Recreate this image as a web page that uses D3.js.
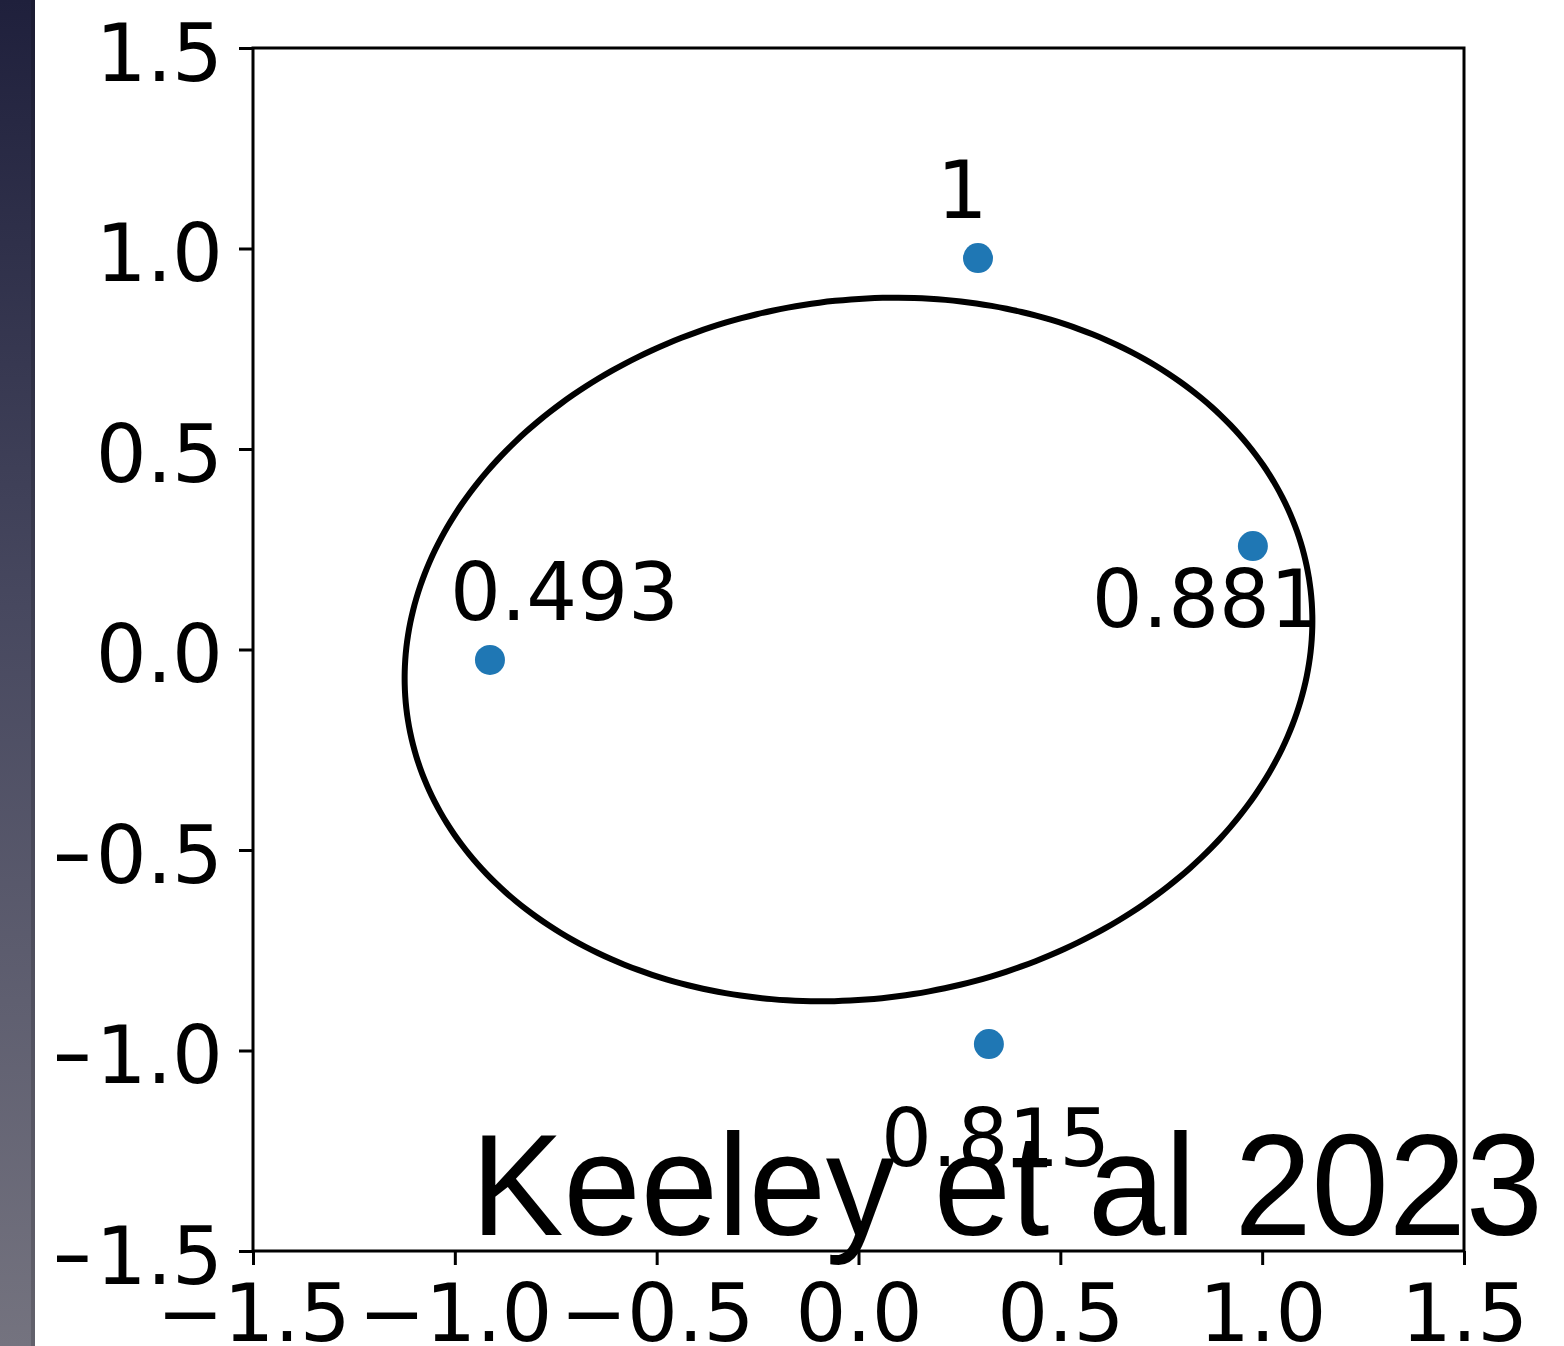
<!DOCTYPE html>
<html>
<head>
<meta charset="utf-8">
<script src="https://cdn.jsdelivr.net/npm/d3@7"></script>
<style>
  body { margin: 0; background: white; }
  svg { display: block; }
</style>
</head>
<body>
<div id="chart"></div>
<script>
// points and their labels
const pointX = [0.296, 0.977, -0.913, 0.323];
const pointY = [0.976, 0.258, -0.026, -0.984];
const pointLabels = ["1", "0.881", "0.493", "0.815"];
const labelX = [0.194, 0.578, -1.012, 0.056];
const labelY = [1.076, 0.056, 0.074, -1.288];

// fitted ellipse
const ellipseCenter = [0.0, 0.0];
const ellipseRadii = [1.13, 0.87];
const ellipseAngle = 9; // degrees

const xTicks = [-1.5, -1.0, -0.5, 0.0, 0.5, 1.0, 1.5];
const yTicks = [-1.5, -1.0, -0.5, 0.0, 0.5, 1.0, 1.5];
const credit = "Keeley et al 2023";

const width = 1564, height = 1346;

const svg = d3.select("#chart").append("svg")
    .attr("width", width)
    .attr("height", height);

const defs = svg.append("defs");

// dark strip on the left edge
const grad = defs.append("linearGradient")
    .attr("id", "strip")
    .attr("x1", 0).attr("x2", 0).attr("y1", 0).attr("y2", 1);
grad.append("stop").attr("offset", 0).attr("stop-color", "#1f203c");
grad.append("stop").attr("offset", 0.45).attr("stop-color", "#47485f");
grad.append("stop").attr("offset", 1).attr("stop-color", "#74737f");
svg.append("rect")
    .attr("x", 0).attr("y", 0)
    .attr("width", 35).attr("height", height)
    .style("fill", "url(#strip)");
svg.append("rect")
    .attr("x", 31).attr("y", 0)
    .attr("width", 4).attr("height", height)
    .style("fill", "#000").style("opacity", 0.15);

const x = d3.scaleLinear().domain([-1.5, 1.5]).range([253, 1464]);
const y = d3.scaleLinear().domain([-1.5, 1.5]).range([1251, 48]);

// the figure's left edge cuts the y labels (clip rect in the y axis group's coordinates)
defs.append("clipPath").attr("id", "figclip")
    .append("rect")
    .attr("x", 57 - x(-1.5)).attr("y", -200)
    .attr("width", width).attr("height", height + 400);

const fontFamily = "'DejaVu Sans', sans-serif";
const fmt = d3.format(".1f");

// axes
const xAxis = svg.append("g")
    .attr("transform", "translate(0," + y(-1.5) + ")")
    .call(d3.axisBottom(x).tickValues(xTicks).tickFormat(fmt).tickSize(14).tickPadding(18));
const yAxis = svg.append("g")
    .attr("clip-path", "url(#figclip)")
    .attr("transform", "translate(" + x(-1.5) + ",0)")
    .call(d3.axisLeft(y).tickValues(yTicks).tickFormat(fmt).tickSize(14).tickPadding(16));

for (const ax of [xAxis, yAxis]) {
    ax.select(".domain").remove();
    ax.selectAll(".tick line").style("stroke", "#000").style("stroke-width", 3);
    ax.selectAll(".tick text")
        .style("font-family", fontFamily)
        .style("font-size", "80px")
        .style("fill", "#000");
}
yAxis.selectAll(".tick text").attr("dy", "0.4em");
xAxis.selectAll(".tick text").attr("dy", "0.73em");

// frame
svg.append("rect")
    .attr("x", x(-1.5)).attr("y", y(1.5))
    .attr("width", x(1.5) - x(-1.5))
    .attr("height", y(-1.5) - y(1.5))
    .style("fill", "none")
    .style("stroke", "#000")
    .style("stroke-width", 3);

// ellipse outline
const rad = ellipseAngle * Math.PI / 180;
const ellipsePts = d3.range(0, 361, 2).map(d => {
    const t = d * Math.PI / 180;
    const ex = ellipseRadii[0] * Math.cos(t), ey = ellipseRadii[1] * Math.sin(t);
    return [
        ellipseCenter[0] + ex * Math.cos(rad) - ey * Math.sin(rad),
        ellipseCenter[1] + ex * Math.sin(rad) + ey * Math.cos(rad)
    ];
});
svg.append("path")
    .datum(ellipsePts)
    .attr("d", d3.line().x(d => x(d[0])).y(d => y(d[1])).curve(d3.curveCardinalClosed))
    .style("fill", "none")
    .style("stroke", "#000")
    .style("stroke-width", 6);

// points
const pts = pointX.map((d, i) => ({x: d, y: pointY[i], label: pointLabels[i], lx: labelX[i], ly: labelY[i]}));
svg.append("g").selectAll("circle")
    .data(pts)
    .join("circle")
    .attr("cx", d => x(d.x))
    .attr("cy", d => y(d.y))
    .attr("r", 15)
    .style("fill", "#1f77b4");

svg.append("g").selectAll("text")
    .data(pts)
    .join("text")
    .attr("x", d => x(d.lx))
    .attr("y", d => y(d.ly))
    .style("font-family", fontFamily)
    .style("font-size", "80px")
    .style("fill", "#000")
    .text(d => d.label);

// credit
svg.append("text")
    .attr("x", 471)
    .attr("y", 1235)
    .attr("textLength", 1072)
    .attr("lengthAdjust", "spacingAndGlyphs")
    .style("font-family", "'Liberation Sans', Arial, sans-serif")
    .style("font-size", "145px")
    .style("fill", "#000")
    .text(credit);
</script>
</body>
</html>
